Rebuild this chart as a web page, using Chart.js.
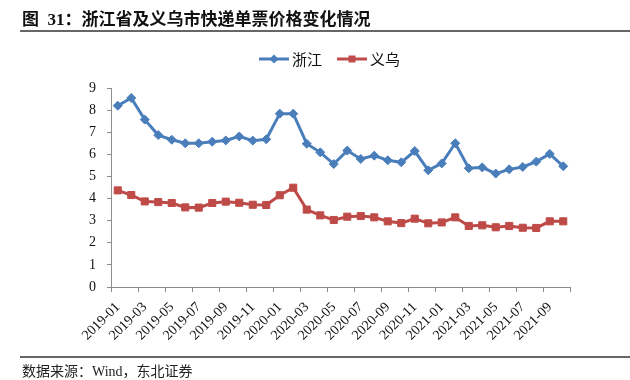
<!DOCTYPE html>
<html>
<head>
<meta charset="utf-8">
<script src="https://cdn.jsdelivr.net/npm/chart.js@4/dist/chart.umd.min.js"></script>
<style>
  html, body { margin: 0; padding: 0; background: #fff; }
  #wrap { position: relative; width: 630px; height: 380px; overflow: hidden; }
  #c { position: absolute; left: 0; top: 0; }
  #title { position: absolute; left: 22px; top: 8px; font: bold 17px "Liberation Serif", "Noto Sans CJK SC", serif; color: #111; line-height: 20px; white-space: nowrap; }
  #title .cn { font-family: "Noto Sans CJK SC", sans-serif; font-weight: bold; }
  #topline { position: absolute; left: 20px; top: 30px; width: 610px; height: 0; border-top: 2px solid #666; }
  #botline { position: absolute; left: 20px; top: 356px; width: 610px; height: 0; border-top: 2px solid #666; }
  #source { position: absolute; left: 22px; top: 361px; font: 14px "Liberation Serif", "Noto Sans CJK SC", serif; color: #222; line-height: 18px; white-space: nowrap; }
  #source .cn { font-family: "Noto Sans CJK SC", sans-serif; }
</style>
</head>
<body>
<div id="wrap">
  <canvas id="c" width="630" height="380"></canvas>
  <div id="title"><span class="cn">图</span>&nbsp; 31<span class="cn">：浙江省及义乌市快递单票价格变化情况</span></div>
  <div id="topline"></div>
  <div id="botline"></div>
  <div id="source"><span class="cn">数据来源：</span>Wind<span class="cn">，东北证券</span></div>
</div>
<script>
const categories = ["2019-01","2019-02","2019-03","2019-04","2019-05","2019-06","2019-07","2019-08","2019-09","2019-10","2019-11","2019-12",
  "2020-01","2020-02","2020-03","2020-04","2020-05","2020-06","2020-07","2020-08","2020-09","2020-10","2020-11","2020-12",
  "2021-01","2021-02","2021-03","2021-04","2021-05","2021-06","2021-07","2021-08","2021-09","2021-10"];
const zhejiang = [8.20,8.55,7.57,6.87,6.66,6.50,6.50,6.57,6.63,6.81,6.62,6.68,7.84,7.84,6.48,6.09,5.56,6.17,5.79,5.94,5.73,5.64,6.15,5.28,5.59,6.50,5.37,5.41,5.13,5.32,5.43,5.67,6.02,5.46];
const yiwu = [4.37,4.16,3.87,3.84,3.80,3.60,3.59,3.80,3.86,3.81,3.72,3.71,4.15,4.49,3.50,3.24,3.03,3.18,3.21,3.15,2.97,2.89,3.09,2.88,2.92,3.15,2.76,2.79,2.70,2.76,2.68,2.67,2.97,2.97];
const seriesNames = ["浙江", "义乌"];
const yTicks = [0,1,2,3,4,5,6,7,8,9];

const BLUE = "#4A7EBB";
const RED = "#BE4B48";
const AXIS = "#8C8C8C";

const legendPlugin = {
  id: "excelLegend",
  afterDraw(chart) {
    const ctx = chart.ctx;
    const items = [
      { x: 259, ds: chart.data.datasets[0] },
      { x: 337, ds: chart.data.datasets[1] }
    ];
    const y = 59;
    ctx.save();
    items.forEach(it => {
      const c = it.ds.borderColor;
      ctx.strokeStyle = c;
      ctx.lineWidth = 3;
      ctx.beginPath();
      ctx.moveTo(it.x, y);
      ctx.lineTo(it.x + 30, y);
      ctx.stroke();
      ctx.fillStyle = c;
      ctx.beginPath();
      if (it.ds.pointStyle === "rect") {
        ctx.rect(it.x + 15 - 3.5, y - 3.5, 7, 7);
      } else {
        ctx.moveTo(it.x + 15, y - 4.5); ctx.lineTo(it.x + 19.5, y); ctx.lineTo(it.x + 15, y + 4.5); ctx.lineTo(it.x + 10.5, y); ctx.closePath();
      }
      ctx.fill();
      ctx.fillStyle = "#111";
      ctx.font = '15px "Noto Sans CJK SC", sans-serif';
      ctx.textBaseline = "middle";
      ctx.textAlign = "left";
      ctx.fillText(it.ds.label, it.x + 33, y);
    });
    ctx.restore();
  }
};

new Chart(document.getElementById("c"), {
  type: "line",
  data: {
    labels: categories,
    datasets: [
      { label: seriesNames[0], data: zhejiang, borderColor: BLUE, backgroundColor: BLUE, borderWidth: 3,
        pointStyle: "rectRot", pointRadius: 4.5, pointBackgroundColor: BLUE, pointBorderColor: BLUE, pointBorderWidth: 1, tension: 0 },
      { label: seriesNames[1], data: yiwu, borderColor: RED, backgroundColor: RED, borderWidth: 3,
        pointStyle: "rect", pointRadius: 5, pointBackgroundColor: RED, pointBorderColor: RED, pointBorderWidth: 1, tension: 0 }
    ]
  },
  options: {
    responsive: false,
    animation: false,
    devicePixelRatio: 1,
    layout: { padding: { left: 0, right: 60, top: 88, bottom: 0 } },
    plugins: { legend: { display: false }, title: { display: false }, tooltip: { enabled: false } },
    scales: {
      x: {
        type: "category",
        offset: true,
        afterFit(s) { s.height = 93; },
        border: { display: true, color: AXIS, width: 1 },
        grid: {
          offset: true,
          drawOnChartArea: false,
          drawTicks: true,
          tickLength: 5,
          tickColor: (ctx) => (ctx.type !== "tick" || ctx.index % 2 === 0) ? AXIS : "rgba(0,0,0,0)"
        },
        ticks: {
          autoSkip: false,
          minRotation: 45,
          maxRotation: 45,
          padding: 7,
          color: "#111",
          font: { family: '"Liberation Serif", serif', size: 14 },
          callback: function(v, i) { return i % 2 === 0 ? this.getLabelForValue(v) : ""; }
        }
      },
      y: {
        min: 0,
        max: 9,
        afterFit(s) { s.width = 111; },
        afterBuildTicks(s) { s.ticks = yTicks.map(v => ({ value: v })); },
        border: { display: true, color: AXIS, width: 1 },
        grid: { drawOnChartArea: false, drawTicks: true, tickLength: 4, tickColor: AXIS },
        ticks: {
          stepSize: 1,
          padding: 11,
          color: "#111",
          font: { family: '"Liberation Serif", serif', size: 14 }
        }
      }
    }
  },
  plugins: [legendPlugin]
});
</script>
</body>
</html>
